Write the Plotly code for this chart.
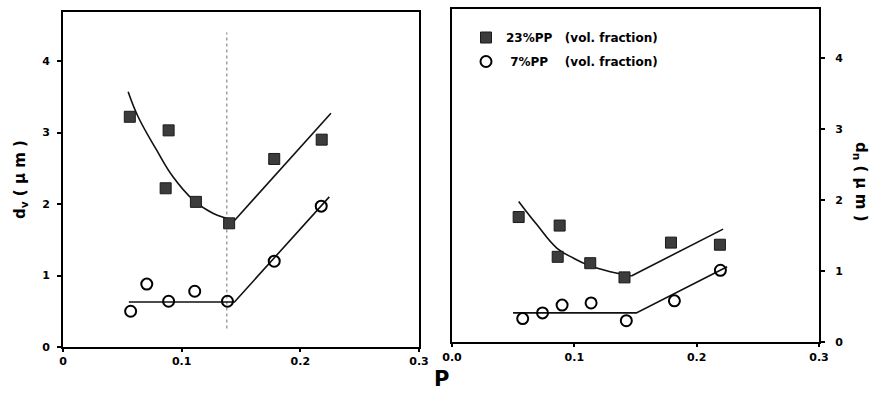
import plotly.graph_objects as go

# ---------------- data ----------------
# Left panel: d_v (um) vs P
left_sq_x = [0.0563, 0.089, 0.0865, 0.112, 0.140, 0.178, 0.218]
left_sq_y = [3.22, 3.03, 2.22, 2.03, 1.73, 2.63, 2.90]
left_ci_x = [0.057, 0.0706, 0.089, 0.111, 0.1386, 0.178, 0.2176]
left_ci_y = [0.50, 0.88, 0.64, 0.78, 0.64, 1.20, 1.97]
left_fit_sq_curve_x = [0.0549, 0.0633, 0.0787, 0.0927, 0.1095, 0.1263, 0.1445]
left_fit_sq_curve_y = [3.57, 3.22, 2.76, 2.38, 2.06, 1.87, 1.77]
left_fit_sq_line_x = [0.1445, 0.2258]
left_fit_sq_line_y = [1.77, 3.27]
left_fit_ci_x = [0.0555, 0.1445, 0.2244]
left_fit_ci_y = [0.63, 0.63, 2.10]
left_dot_x = [0.138, 0.138]
left_dot_y = [0.26, 4.40]

# Right panel: d_n (um) vs P
right_sq_x = [0.0545, 0.088, 0.0864, 0.113, 0.141, 0.179, 0.219]
right_sq_y = [1.76, 1.64, 1.20, 1.11, 0.91, 1.40, 1.37]
right_ci_x = [0.0578, 0.074, 0.090, 0.1137, 0.1425, 0.1818, 0.2194]
right_ci_y = [0.33, 0.41, 0.52, 0.55, 0.30, 0.58, 1.01]
right_fit_sq_curve_x = [0.0545, 0.0695, 0.0859, 0.0995, 0.1117, 0.1295, 0.1466]
right_fit_sq_curve_y = [1.98, 1.65, 1.32, 1.18, 1.08, 0.99, 0.93]
right_fit_sq_line_x = [0.1466, 0.2216]
right_fit_sq_line_y = [0.93, 1.59]
right_fit_ci_x = [0.0499, 0.1507, 0.2249]
right_fit_ci_y = [0.41, 0.41, 1.06]

x_tickvals = [0, 0.1, 0.2, 0.3]
left_x_ticktext = ["0", "0.1", "0.2", "0.3"]
right_x_ticktext = ["0.0", "0.1", "0.2", "0.3"]
y_tickvals = [0, 1, 2, 3, 4]
y_ticktext = ["0", "1", "2", "3", "4"]

series_names = ["23%PP\u00a0\u00a0\u00a0(vol. fraction)", "\u00a07%PP\u00a0\u00a0\u00a0\u00a0(vol. fraction)"]

# ---------------- figure ----------------
W, H = 877, 395
FONT = "DejaVu Sans"
SQ = dict(symbol="square", size=11, color="#3c3c3c", line=dict(color="#1a1a1a", width=1))
CI = dict(symbol="circle-open", size=11, color="black", line=dict(color="black", width=2))
LINE = dict(color="#111111", width=1.6)

fig = go.Figure()

# left panel
fig.add_trace(go.Scatter(x=left_dot_x, y=left_dot_y, mode="lines",
                         line=dict(color="#a0a0a0", width=1.5, dash="dot"),
                         showlegend=False, xaxis="x", yaxis="y", hoverinfo="skip"))
fig.add_trace(go.Scatter(x=left_fit_sq_curve_x, y=left_fit_sq_curve_y, mode="lines",
                         line=dict(shape="spline", smoothing=1.2, **LINE), showlegend=False, xaxis="x", yaxis="y"))
fig.add_trace(go.Scatter(x=left_fit_sq_line_x, y=left_fit_sq_line_y, mode="lines",
                         line=LINE, showlegend=False, xaxis="x", yaxis="y"))
fig.add_trace(go.Scatter(x=left_fit_ci_x, y=left_fit_ci_y, mode="lines",
                         line=LINE, showlegend=False, xaxis="x", yaxis="y"))
fig.add_trace(go.Scatter(x=left_sq_x, y=left_sq_y, mode="markers", marker=SQ,
                         showlegend=False, xaxis="x", yaxis="y"))
fig.add_trace(go.Scatter(x=left_ci_x, y=left_ci_y, mode="markers", marker=CI,
                         showlegend=False, xaxis="x", yaxis="y"))

# right panel
fig.add_trace(go.Scatter(x=right_fit_sq_curve_x, y=right_fit_sq_curve_y, mode="lines",
                         line=dict(shape="spline", smoothing=1.2, **LINE), showlegend=False, xaxis="x2", yaxis="y2"))
fig.add_trace(go.Scatter(x=right_fit_sq_line_x, y=right_fit_sq_line_y, mode="lines",
                         line=LINE, showlegend=False, xaxis="x2", yaxis="y2"))
fig.add_trace(go.Scatter(x=right_fit_ci_x, y=right_fit_ci_y, mode="lines",
                         line=LINE, showlegend=False, xaxis="x2", yaxis="y2"))
fig.add_trace(go.Scatter(x=right_sq_x, y=right_sq_y, mode="markers", marker=SQ,
                         name=series_names[0], legendgroup="a", xaxis="x2", yaxis="y2"))
fig.add_trace(go.Scatter(x=right_ci_x, y=right_ci_y, mode="markers", marker=CI,
                         name=series_names[1], legendgroup="b", xaxis="x2", yaxis="y2"))

tickfont = dict(family=FONT, size=11, color="black", weight="bold")
common_x = dict(range=[0, 0.3], tickvals=x_tickvals, showgrid=False, zeroline=False,
                showline=True, linecolor="black", linewidth=2, mirror=True,
                ticks="outside", ticklen=3, tickwidth=1.5, tickcolor="black",
                tickfont=tickfont, fixedrange=True)
common_y = dict(tickvals=y_tickvals, ticktext=y_ticktext, showgrid=False, zeroline=False,
                showline=True, linecolor="black", linewidth=2, mirror=True,
                ticks="outside", ticklen=4, tickwidth=1.5, tickcolor="black",
                tickfont=tickfont, fixedrange=True)

fig.update_layout(
    width=W, height=H,
    margin=dict(l=0, r=0, t=0, b=0, autoexpand=False),
    paper_bgcolor="white", plot_bgcolor="white",
    font=dict(family=FONT, color="black"),
    xaxis=dict(domain=[63 / W, 419 / W], anchor="y", ticktext=left_x_ticktext,
               ticklabelstandoff=0, **common_x),
    yaxis=dict(domain=[1 - 347 / H, 1 - 12 / H], anchor="x", range=[0, 335 / 71.5],
               side="left", ticklabelstandoff=5, **common_y),
    xaxis2=dict(domain=[452 / W, 819 / W], anchor="y2", ticktext=right_x_ticktext,
                ticklabelstandoff=1, **common_x),
    yaxis2=dict(domain=[1 - 342 / H, 1 - 9 / H], anchor="x2", range=[0, 333 / 71.0],
                side="right", ticklabelstandoff=8, **common_y),
    legend=dict(x=466 / W, y=1 - 23 / H, xanchor="left", yanchor="top",
                bgcolor="rgba(0,0,0,0)", borderwidth=0, tracegroupgap=5,
                traceorder="grouped",
                font=dict(family=FONT, size=12, color="black", weight="bold")),
    showlegend=True,
)

# axis titles
fig.add_annotation(text="d<sub>v</sub> ( μ m )", x=20 / W, y=1 - 180 / H, xref="paper", yref="paper",
                   xanchor="center", yanchor="middle", textangle=-90, showarrow=False,
                   font=dict(family=FONT, size=15, color="black", weight="bold"))
fig.add_annotation(text="d<sub>n</sub> ( μ m )", x=861 / W, y=1 - 182 / H, xref="paper", yref="paper",
                   xanchor="center", yanchor="middle", textangle=90, showarrow=False,
                   font=dict(family=FONT, size=15, color="black", weight="bold"))
fig.add_annotation(text="P", x=441 / W, y=1 - 379 / H, xref="paper", yref="paper",
                   xanchor="center", yanchor="middle", showarrow=False,
                   font=dict(family=FONT, size=21, color="black", weight="bold"))

fig.write_html("out.html")
